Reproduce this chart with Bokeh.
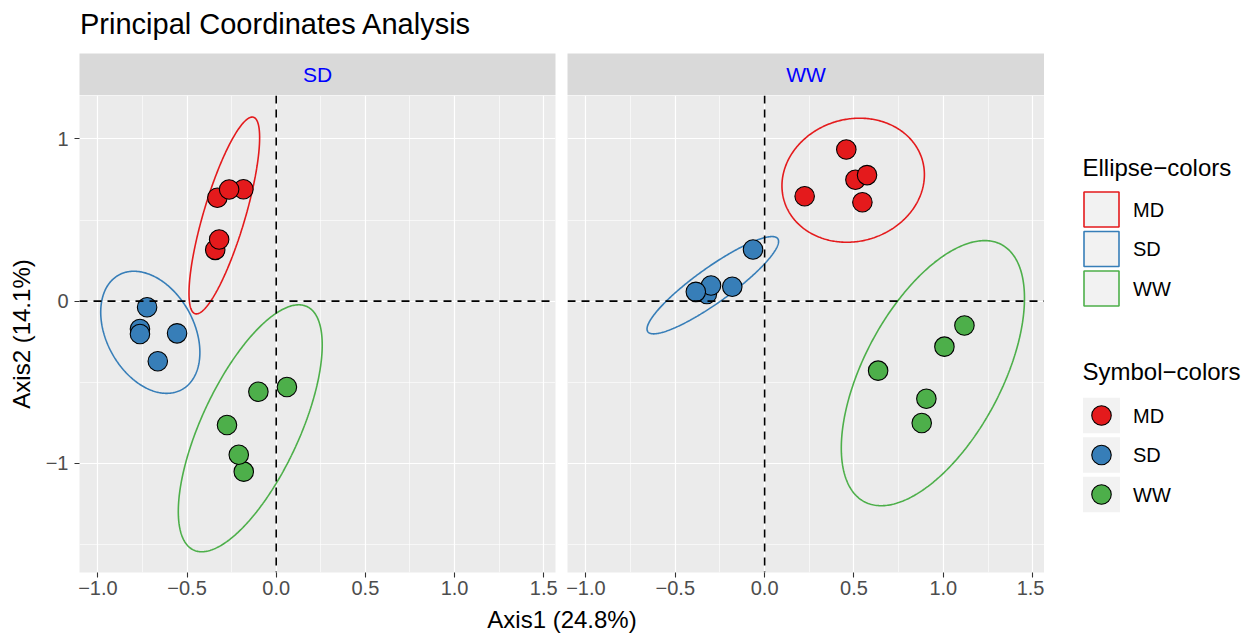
import numpy as np
from bokeh.plotting import figure
from bokeh.layouts import row, column
from bokeh.models import Range1d, FixedTicker, Span, CustomJSTickFormatter
from bokeh.core.properties import value
from bokeh.embed import file_html
from bokeh.resources import INLINE

FONT = "Liberation Sans"

# ---------------- data ----------------
groups = ["MD", "SD", "WW"]
group_colors = ["#E41A1C", "#377EB8", "#4DAF4A"]
facets = ["SD", "WW"]

# facet SD : points per group
sd_md_x = [-0.342, -0.320, -0.330, -0.184, -0.264]
sd_md_y = [0.316, 0.380, 0.637, 0.690, 0.688]
sd_sd_x = [-0.724, -0.764, -0.764, -0.556, -0.664]
sd_sd_y = [-0.038, -0.172, -0.203, -0.199, -0.371]
sd_ww_x = [-0.100, 0.060, -0.276, -0.182, -0.210]
sd_ww_y = [-0.559, -0.530, -0.764, -1.052, -0.948]

# facet WW : points per group
ww_md_x = [0.457, 0.224, 0.508, 0.573, 0.547]
ww_md_y = [0.935, 0.647, 0.748, 0.777, 0.610]
ww_sd_x = [-0.323, -0.300, -0.385, -0.181, -0.065]
ww_sd_y = [0.044, 0.096, 0.057, 0.088, 0.318]
ww_ww_x = [1.118, 1.006, 0.635, 0.905, 0.879]
ww_ww_y = [-0.151, -0.281, -0.429, -0.602, -0.752]

# 95% ellipses (centre, half-extents, correlation), per facet, order MD, SD, WW
sd_ell_cx = [-0.291, -0.706, -0.1455]
sd_ell_cy = [0.528, -0.1925, -0.7845]
sd_ell_hx = [0.198, 0.278, 0.4035]
sd_ell_hy = [0.607, 0.3765, 0.7615]
sd_ell_rho = [0.79, -0.33, 0.674]

ww_ell_cx = [0.4955, -0.290, 0.9415]
ww_ell_cy = [0.7455, 0.098, -0.4445]
ww_ell_hx = [0.3985, 0.368, 0.5125]
ww_ell_hy = [0.3825, 0.300, 0.8175]
ww_ell_rho = [0.09, 0.90, 0.565]

x_major = [-1.0, -0.5, 0.0, 0.5, 1.0, 1.5]
x_minor = [-0.75, -0.25, 0.25, 0.75, 1.25]
y_major = [-1.0, 0.0, 1.0]
y_minor = [-1.5, -0.5, 0.5]
XLIM = (-1.103, 1.566)
YLIM = (-1.674, 1.268)

title_text = "Principal Coordinates Analysis"
x_title = "Axis1 (24.8%)"
y_title = "Axis2 (14.1%)"
legend1_title = "Ellipse\u2212colors"
legend2_title = "Symbol\u2212colors"

points = {
    "SD": [(sd_md_x, sd_md_y), (sd_sd_x, sd_sd_y), (sd_ww_x, sd_ww_y)],
    "WW": [(ww_md_x, ww_md_y), (ww_sd_x, ww_sd_y), (ww_ww_x, ww_ww_y)],
}
ellipses = {
    "SD": (sd_ell_cx, sd_ell_cy, sd_ell_hx, sd_ell_hy, sd_ell_rho),
    "WW": (ww_ell_cx, ww_ell_cy, ww_ell_hx, ww_ell_hy, ww_ell_rho),
}

# ---------------- layout constants ----------------
LEFT_B = 79
GAP_L = 6
GAP_R = 6
FRAME_W1 = 476
FRAME_W2 = 477
TITLE_H = 53
STRIP_H = 42
PANEL_H = 477
BOTTOM_B = 32
LEG_W = 1255 - (LEFT_B + FRAME_W1 + GAP_L + GAP_R + FRAME_W2)
TOP_H = TITLE_H + STRIP_H + PANEL_H + BOTTOM_B
XLAB_H = 634 - TOP_H

PANEL_BG = "#EBEBEB"
STRIP_BG = "#D9D9D9"
TICK_COL = "#4D4D4D"

fmt_x = CustomJSTickFormatter(code="return tick.toFixed(1).replace('-', '\u2212');")
fmt_y = CustomJSTickFormatter(code="return tick.toFixed(0).replace('-', '\u2212');")


def blank_fig(width, height, xr, yr, bg="white", **kw):
    p = figure(width=width, height=height, x_range=xr, y_range=yr,
               x_axis_location=None, y_axis_location=None,
               toolbar_location=None, output_backend="svg",
               background_fill_color=bg, border_fill_color="white",
               outline_line_color=None, min_border=0, **kw)
    p.grid.visible = False
    return p


def panel_fig(facet, show_y, frame_w, bl, br):
    p = figure(width=bl + frame_w + br, height=PANEL_H + BOTTOM_B,
               x_range=Range1d(*XLIM), y_range=Range1d(*YLIM),
               x_axis_location="below", y_axis_location="left" if show_y else None,
               toolbar_location=None, output_backend="svg",
               background_fill_color=PANEL_BG, border_fill_color="white",
               outline_line_color=None, min_border=0,
               min_border_left=bl, min_border_right=br, min_border_top=0,
               min_border_bottom=BOTTOM_B)
    axes = list(p.xaxis) + (list(p.yaxis) if show_y else [])
    for ax in axes:
        ax.major_tick_out = 5
        ax.major_tick_in = 0
        ax.minor_tick_out = 0
        ax.minor_tick_in = 0
        ax.major_tick_line_color = "#333333"
        ax.major_tick_line_width = 1.1
        ax.axis_line_color = None
        ax.major_label_text_font_size = "20px"
        ax.major_label_text_color = TICK_COL
        ax.major_label_text_font = FONT
        ax.major_label_standoff = 3
    p.xaxis.ticker = FixedTicker(ticks=x_major)
    p.xaxis.formatter = fmt_x
    if show_y:
        p.yaxis.ticker = FixedTicker(ticks=y_major)
        p.yaxis.formatter = fmt_y
        p.yaxis.major_label_standoff = 6
        p.yaxis.axis_label = y_title
        p.yaxis.axis_label_text_font_size = "24px"
        p.yaxis.axis_label_text_font_style = "normal"
        p.yaxis.axis_label_text_font = FONT
        p.yaxis.axis_label_text_color = "black"
        p.yaxis.axis_label_standoff = 8

    p.xgrid.ticker = FixedTicker(ticks=x_major, minor_ticks=x_minor)
    p.ygrid.ticker = FixedTicker(ticks=y_major, minor_ticks=y_minor)
    for g in list(p.xgrid) + list(p.ygrid):
        g.grid_line_color = "white"
        g.grid_line_width = 1.2
        g.minor_grid_line_color = "white"
        g.minor_grid_line_width = 0.6

    t = np.linspace(0, 2 * np.pi, 361)
    cx, cy, hx, hy, rho = ellipses[facet]
    for i, col in enumerate(group_colors):
        d = np.arccos(rho[i])
        p.line(cx[i] + hx[i] * np.cos(t), cy[i] + hy[i] * np.cos(t + d),
               line_color=col, line_width=1.6)

    for (xs, ys), col in zip(points[facet], group_colors):
        p.scatter(xs, ys, size=19.5, marker="circle", fill_color=col,
                  line_color="black", line_width=1.1)

    p.add_layout(Span(location=0, dimension="height", line_color="black",
                      line_dash="8 6", line_width=1.6))
    p.add_layout(Span(location=0, dimension="width", line_color="black",
                      line_dash="8 6", line_width=1.6))
    return p


def strip_fig(facet, frame_w, bl, br):
    p = blank_fig(bl + frame_w + br, STRIP_H, Range1d(0, 1), Range1d(0, 1), bg=STRIP_BG,
                  min_border_left=bl, min_border_right=br)
    p.text(x=[0.5], y=[0.5], text=[facet], text_align="center",
           text_baseline="middle", text_color="#0000FF",
           text_font_size="21px", text_font=value(FONT))
    return p


# ---------------- title ----------------
W1 = LEFT_B + FRAME_W1 + GAP_L
W2 = GAP_R + FRAME_W2
title_fig = blank_fig(W1 + W2, TITLE_H, Range1d(0, W1 + W2), Range1d(TITLE_H, 0))
title_fig.text(x=[LEFT_B + 0.5], y=[23], text=[title_text], text_align="left",
               text_baseline="middle", text_color="black", text_font_size="29px",
               text_font=value(FONT))

strip_sd = strip_fig("SD", FRAME_W1, LEFT_B, GAP_L)
panel_sd = panel_fig("SD", True, FRAME_W1, LEFT_B, GAP_L)
strip_ww = strip_fig("WW", FRAME_W2, GAP_R, 0)
panel_ww = panel_fig("WW", False, FRAME_W2, GAP_R, 0)

# ---------------- legend ----------------
leg = blank_fig(LEG_W, TOP_H, Range1d(0, LEG_W), Range1d(TOP_H, 0))
KEY = 37
STEP = 39.5
KX = 38.5 + KEY / 2
LX = 88.5
t1_y = 167
k1 = [t1_y + 42 + i * STEP for i in range(len(groups))]
t2_y = k1[-1] + 83
k2 = [t2_y + 44 + i * STEP for i in range(len(groups))]

leg.text(x=[38, 38], y=[t1_y, t2_y], text=[legend1_title, legend2_title],
         text_baseline="middle", text_align="left", text_color="black",
         text_font_size="24px", text_font=value(FONT))
leg.rect(x=[KX] * 3, y=k1, width=KEY - 2, height=KEY - 2, fill_color="#F2F2F2",
         line_color=group_colors, line_width=1.6)
leg.rect(x=[KX] * 3, y=k2, width=KEY, height=KEY - 1.5, fill_color="#F2F2F2",
         line_color=None)
leg.scatter(x=[KX] * 3, y=k2, size=19.5, marker="circle", fill_color=group_colors,
            line_color="black", line_width=1.1)
leg.text(x=[LX] * 3, y=k1, text=groups, text_baseline="middle", text_align="left",
         text_color="black", text_font_size="20px", text_font=value(FONT))
leg.text(x=[LX] * 3, y=k2, text=groups, text_baseline="middle", text_align="left",
         text_color="black", text_font_size="20px", text_font=value(FONT))

# ---------------- x axis title ----------------
xl = blank_fig(1255, XLAB_H, Range1d(0, 1255), Range1d(XLAB_H, 0))
x_mid = (LEFT_B + LEFT_B + FRAME_W1 + GAP_L + GAP_R + FRAME_W2) / 2
xl.text(x=[x_mid], y=[XLAB_H / 2], text=[x_title], text_align="center",
        text_baseline="middle", text_color="black", text_font_size="24px",
        text_font=value(FONT))

panels = row(column(strip_sd, panel_sd), column(strip_ww, panel_ww))
layout = column(row(column(title_fig, panels), leg), xl)
open("out.html", "w").write(file_html(layout, INLINE))
